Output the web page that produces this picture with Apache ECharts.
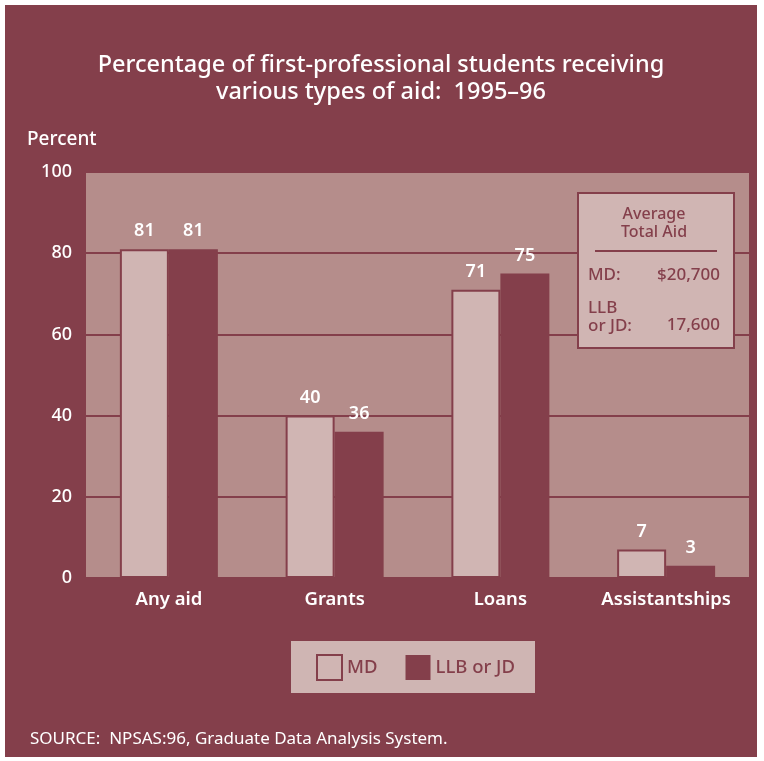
<!DOCTYPE html>
<html><head><meta charset="utf-8">
<script src="https://cdn.jsdelivr.net/npm/echarts@6/dist/echarts.min.js"></script>
<style>
html,body{margin:0;padding:0;background:#fff;}
#c{position:absolute;left:5px;top:5px;width:752px;height:752px;}
</style></head>
<body><div id="c"></div>
<script>
const categories = ['Any aid', 'Grants', 'Loans', 'Assistantships'];
const mdValues = [81, 40, 71, 7];
const llbValues = [81, 36, 75, 3];
const seriesNames = ['MD', 'LLB or JD'];
const yTicks = { min: 0, max: 100, interval: 20 };
const insetTitle = ['Average', 'Total Aid'];
const insetRows = [['MD:', '$20,700'], ['LLB\nor JD:', '17,600']];

const BG = '#843F4B', PLOT = '#B58D8B', LIGHT = '#D0B5B3';
const FONT = '"Noto Sans", "Open Sans", sans-serif';
const chart = echarts.init(document.getElementById('c'));
chart.setOption({
  backgroundColor: BG,
  animation: false,
  title: {
    text: 'Percentage of first-professional students receiving\nvarious types of aid:  1995–96',
    left: 'center', top: 42,
    textStyle: { color: '#fff', fontFamily: FONT, fontSize: 23.5, fontWeight: 500, lineHeight: 27 }
  },
  grid: { left: 81, top: 167, width: 663, height: 406, show: true, backgroundColor: PLOT, borderWidth: 0 },
  legend: {
    left: 286, top: 636, orient: 'horizontal',
    backgroundColor: '#CFB5B3', padding: [13, 20, 12, 25],
    itemWidth: 25, itemHeight: 25, itemGap: 28, icon: 'rect',
    textStyle: { color: BG, fontFamily: FONT, fontSize: 18.5, fontWeight: 500 },
    data: seriesNames
  },
  xAxis: {
    type: 'category', data: categories,
    axisLine: { show: false }, axisTick: { show: false },
    axisLabel: { color: '#fff', fontFamily: FONT, fontSize: 18.5, fontWeight: 600, margin: 12, interval: 0, hideOverlap: false }
  },
  yAxis: {
    type: 'value', min: yTicks.min, max: yTicks.max, interval: yTicks.interval,
    axisLine: { show: false }, axisTick: { show: false },
    axisLabel: { color: '#fff', fontFamily: FONT, fontSize: 18, fontWeight: 500, margin: 14 },
    splitLine: { lineStyle: { color: BG, width: 2 } }
  },
  series: [
    {
      name: seriesNames[0], type: 'bar', data: mdValues, barWidth: 49, barGap: '0%',
      itemStyle: { color: LIGHT, borderColor: BG, borderWidth: 2 },
      label: { show: true, position: 'top', distance: 9, color: '#fff', fontFamily: FONT, fontSize: 18, fontWeight: 600 }
    },
    {
      name: seriesNames[1], type: 'bar', data: llbValues, barWidth: 49,
      itemStyle: { color: BG },
      label: { show: true, position: 'top', distance: 9, color: '#fff', fontFamily: FONT, fontSize: 18, fontWeight: 600 }
    }
  ],
  graphic: [
    { type: 'text', left: 22, top: 125, style: { text: 'Percent', fill: '#fff', font: '500 19px ' + FONT } },
    { type: 'text', left: 25, top: 726, style: { text: 'SOURCE:  NPSAS:96, Graduate Data Analysis System.', fill: '#fff', font: '400 17px ' + FONT } },
    { type: 'rect', left: 572, top: 187, z: 50, shape: { width: 156, height: 155 }, style: { fill: LIGHT, stroke: BG, lineWidth: 2 } },
    { type: 'text', z: 51, x: 649, y: 200, style: { text: insetTitle.join('\n'), fill: BG, font: '500 16px ' + FONT, align: 'center', lineHeight: 18 } },
    { type: 'rect', z: 51, shape: { x: 590, y: 245, width: 122, height: 2 }, style: { fill: BG } },
    { type: 'text', z: 51, x: 583, y: 262, style: { text: insetRows[0][0], fill: BG, font: '500 17px ' + FONT } },
    { type: 'text', z: 51, x: 715, y: 262, style: { text: insetRows[0][1], fill: BG, font: '500 17px ' + FONT, align: 'right' } },
    { type: 'text', z: 51, x: 583, y: 294, style: { text: insetRows[1][0], fill: BG, font: '500 17px ' + FONT, lineHeight: 18 } },
    { type: 'text', z: 51, x: 715, y: 312, style: { text: insetRows[1][1], fill: BG, font: '500 17px ' + FONT, align: 'right' } }
  ]
});
</script></body></html>
